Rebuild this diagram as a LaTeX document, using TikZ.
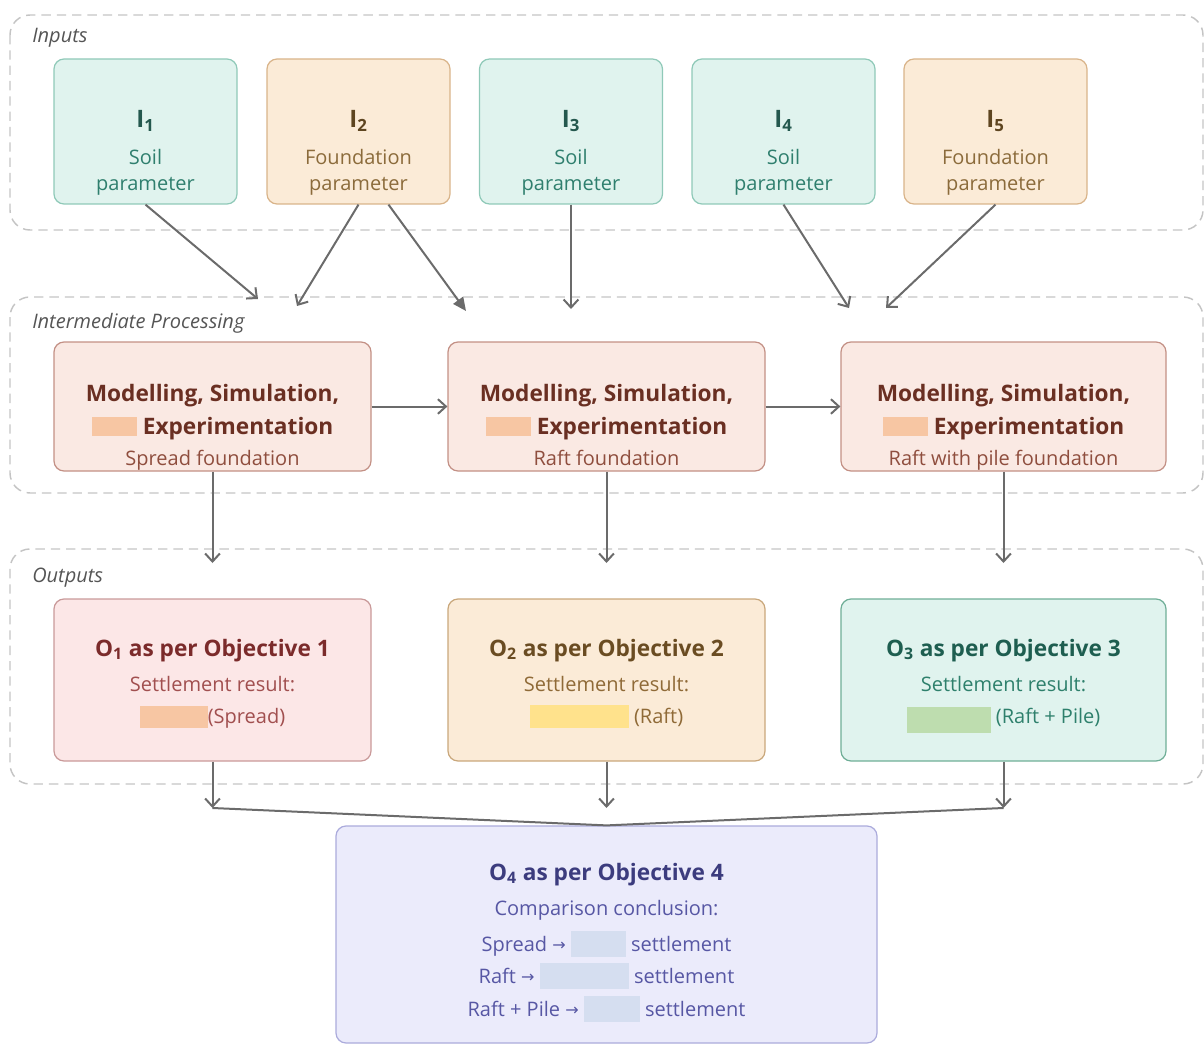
\documentclass[tikz,border=0pt]{standalone}
\usepackage{fontspec}
\setmainfont{Open Sans}
\newfontfamily\arrowfont{DejaVu Sans}
\usetikzlibrary{arrows.meta,calc}

\definecolor{grpline}{HTML}{C4C4C4}
\definecolor{grptext}{HTML}{555555}
\definecolor{soilfill}{HTML}{E0F3EE}
\definecolor{soilline}{HTML}{8FC9B8}
\definecolor{soiltext}{HTML}{2F7F6E}
\definecolor{soilid}{HTML}{24584E}
\definecolor{fndfill}{HTML}{FBEBD7}
\definecolor{fndline}{HTML}{D9B48A}
\definecolor{fndtext}{HTML}{8B6B3B}
\definecolor{fndid}{HTML}{5E4520}
\definecolor{procfill}{HTML}{FAE9E3}
\definecolor{procline}{HTML}{C39085}
\definecolor{proctitle}{HTML}{6A2F22}
\definecolor{procsub}{HTML}{8F4E3E}
\definecolor{hlpeach}{HTML}{F7C6A3}
\definecolor{oafill}{HTML}{FCE7E7}
\definecolor{oaline}{HTML}{C99999}
\definecolor{oatitle}{HTML}{7B2B2B}
\definecolor{oatext}{HTML}{A14F4F}
\definecolor{obfill}{HTML}{FBEBD7}
\definecolor{obline}{HTML}{C9A77B}
\definecolor{obtitle}{HTML}{6A4C22}
\definecolor{obtext}{HTML}{8F6A37}
\definecolor{hlyellow}{HTML}{FFE28C}
\definecolor{ocfill}{HTML}{E0F3EE}
\definecolor{ocline}{HTML}{6FAE97}
\definecolor{octitle}{HTML}{1E5E50}
\definecolor{octext}{HTML}{2E806C}
\definecolor{hlgreen}{HTML}{BEDDAF}
\definecolor{odfill}{HTML}{EBEBFB}
\definecolor{odline}{HTML}{ABABDC}
\definecolor{odtitle}{HTML}{3C3C7E}
\definecolor{odtext}{HTML}{5757A4}
\definecolor{hllav}{HTML}{D5DEF0}
\definecolor{arrowgray}{HTML}{6B6B6B}

% coloured blank field: colour, width, height, depth
\newcommand{\hlbox}[4]{\textcolor{#1}{\rule[-#4]{#2}{\dimexpr#3+#4\relax}}}
\newcommand{\rarr}{\raisebox{0.8pt}{\arrowfont\fontsize{12}{14}\selectfont →}}
\newcommand{\deep}{\rule[-7.5pt]{0pt}{7.5pt}}

\tikzset{
  grp/.style={draw=grpline, line width=1.1pt, dash pattern=on 7pt off 4.5pt, rounded corners=15pt},
  grplabel/.style={anchor=base west, inner sep=0pt, font=\fontsize{15}{18}\selectfont\itshape, text=grptext},
  box/.style={line width=0.9pt, rounded corners=7.5pt, inner sep=0pt},
  inbox/.style={box, minimum width=137.25pt, minimum height=108.75pt},
  procbox/.style={box, draw=procline, fill=procfill, minimum height=96.75pt},
  outbox/.style={box, minimum height=121.5pt},
  txt/.style={align=center, inner sep=0pt},
  intext/.style={txt, font=\fontsize{15}{19.5}\selectfont},
  proctext/.style={txt, font=\fontsize{17}{24.75}\selectfont, text=proctitle},
  outtext/.style={txt, font=\fontsize{15}{24}\selectfont},
  flow/.style={draw=arrowgray, line width=1.5pt, -{Straight Barb[length=6pt,width=11pt]}},
  flowfill/.style={draw=arrowgray, line width=1.5pt, -{Triangle[length=10pt,width=9pt]}},
  merge/.style={draw=arrowgray, line width=1.5pt},
}

\begin{document}
\begin{tikzpicture}[x=0.75pt,y=-0.75pt]
	\useasboundingbox (0,0) rectangle (1204,1045);
	% groups
	\draw[grp] (10,15) rectangle (1203,230);
	\draw[grp] (10,297) rectangle (1203,493);
	\draw[grp] (10,549) rectangle (1203,784);
	\node[grplabel] (lblin) at (32,43) {Inputs};
	\node[grplabel] (lblproc) at (32,328) {Intermediate Processing};
	\node[grplabel] (lblout) at (32,582) {Outputs};
	%
	\node[inbox, draw=soilline, fill=soilfill] (i1) at (145.5,131.5) {};
	\node[inbox, draw=fndline, fill=fndfill] (i2) at (358.5,131.5) {};
	\node[inbox, draw=soilline, fill=soilfill] (i3) at (571,131.5) {};
	\node[inbox, draw=soilline, fill=soilfill] (i4) at (783.5,131.5) {};
	\node[inbox, draw=fndline, fill=fndfill] (i5) at (995.5,131.5) {};
	\node[intext, text=soiltext] (i1txt) at (145.5,153) {{\fontsize{18}{20}\selectfont\bfseries\color{soilid}I\textsubscript{1}}\\[8.25pt]Soil\\parameter};
	\node[intext, text=fndtext] (i2txt) at (358.5,153) {{\fontsize{18}{20}\selectfont\bfseries\color{fndid}I\textsubscript{2}}\\[8.25pt]Foundation\\parameter};
	\node[intext, text=soiltext] (i3txt) at (571,153) {{\fontsize{18}{20}\selectfont\bfseries\color{soilid}I\textsubscript{3}}\\[8.25pt]Soil\\parameter};
	\node[intext, text=soiltext] (i4txt) at (783.5,153) {{\fontsize{18}{20}\selectfont\bfseries\color{soilid}I\textsubscript{4}}\\[8.25pt]Soil\\parameter};
	\node[intext, text=fndtext] (i5txt) at (995.5,153) {{\fontsize{18}{20}\selectfont\bfseries\color{fndid}I\textsubscript{5}}\\[8.25pt]Foundation\\parameter};
	%
	\node[procbox, minimum width=237.75pt] (p1) at (212.5,406.5) {};
	\node[procbox, minimum width=237.75pt] (p2) at (606.5,406.5) {};
	\node[procbox, minimum width=243.75pt] (p3) at (1003.5,406.5) {};
	\node[proctext] (p1txt) at (212.5,428) {{\bfseries Modelling, Simulation,}\\{\hlbox{hlpeach}{34pt}{12.75pt}{1.5pt} \bfseries Experimentation}\\[-1.5pt]{\fontsize{15}{18}\selectfont\color{procsub}Spread foundation\strut}};
	\node[proctext] (p2txt) at (606.5,428) {{\bfseries Modelling, Simulation,}\\{\hlbox{hlpeach}{34pt}{12.75pt}{1.5pt} \bfseries Experimentation}\\[-1.5pt]{\fontsize{15}{18}\selectfont\color{procsub}Raft foundation\strut}};
	\node[proctext] (p3txt) at (1003.5,428) {{\bfseries Modelling, Simulation,}\\{\hlbox{hlpeach}{34pt}{12.75pt}{1.5pt} \bfseries Experimentation}\\[-1.5pt]{\fontsize{15}{18}\selectfont\color{procsub}Raft with pile foundation\strut}};
	%
	\node[outbox, draw=oaline, fill=oafill, minimum width=237.75pt] (o1) at (212.5,680) {};
	\node[outbox, draw=obline, fill=obfill, minimum width=237.75pt] (o2) at (606.5,680) {};
	\node[outbox, draw=ocline, fill=ocfill, minimum width=243.75pt] (o3) at (1003.5,680) {};
	\node[outtext, text=oatext] (o1txt) at (212.5,686) {{\fontsize{17}{20}\selectfont\bfseries\color{oatitle}O\textsubscript{1} as per Objective 1}\\[2.25pt]Settlement result:\\\hlbox{hlpeach}{51pt}{12.75pt}{3.75pt}(Spread)\deep};
	\node[outtext, text=obtext] (o2txt) at (606.5,686) {{\fontsize{17}{20}\selectfont\bfseries\color{obtitle}O\textsubscript{2} as per Objective 2}\\[2.25pt]Settlement result:\\\hlbox{hlyellow}{74.25pt}{13.5pt}{3.75pt} (Raft)\deep};
	\node[outtext, text=octext] (o3txt) at (1003.5,686) {{\fontsize{17}{20}\selectfont\bfseries\color{octitle}O\textsubscript{3} as per Objective 3}\\[2.25pt]Settlement result:\\\hlbox{hlgreen}{63pt}{12pt}{7.5pt} (Raft + Pile)\deep};
	%
	\node[box, draw=odline, fill=odfill, minimum width=405.75pt, minimum height=162.75pt] (o4) at (606.5,934.5) {};
	\node[txt, font=\fontsize{15}{24.75}\selectfont, text=odtext] (o4txt) at (606.5,942.5) {{\fontsize{17}{20}\selectfont\bfseries\color{odtitle}O\textsubscript{4} as per Objective 4}\\[1.5pt]Comparison conclusion:\\[2.25pt]Spread \rarr{} \hlbox{hllav}{41.25pt}{15pt}{4.5pt} settlement\\[-0.75pt]Raft \rarr{} \hlbox{hllav}{66.75pt}{15pt}{4.5pt} settlement\\Raft + Pile \rarr{} \hlbox{hllav}{42pt}{15pt}{4.5pt} settlement};
	%
	\coordinate (e1) at (258,299);
	\coordinate (e2) at (297,306);
	\coordinate (e3) at (466,311);
	\coordinate (e4) at (571,309);
	\coordinate (e5) at (849,308);
	\coordinate (e6) at (886,308);
	\draw[flow] (i1.south) -- (e1);
	\draw[flow] (i2.south) -- (e2);
	\draw[flowfill] ([xshift=22.5pt]i2.south) -- (e3);
	\draw[flow] (i3.south) -- (e4);
	\draw[flow] (i4.south) -- (e5);
	\draw[flow] (i5.south) -- (e6);
	%
	\draw[flow] (p1) -- (p2);
	\draw[flow] (p2) -- (p3);
	\coordinate (d1) at (212.5,563);
	\coordinate (d2) at (606.5,563);
	\coordinate (d3) at (1003.5,563);
	\draw[flow] (p1.south) -- (d1);
	\draw[flow] (p2.south) -- (d2);
	\draw[flow] (p3.south) -- (d3);
	%
	\coordinate (m1) at (212.5,808);
	\coordinate (m2) at (606.5,808);
	\coordinate (m3) at (1003.5,808);
	\draw[flow] (o1.south) -- (m1);
	\draw[flow] (o2.south) -- (m2);
	\draw[flow] (o3.south) -- (m3);
	\draw[merge] (m1) -- (o4.north) -- (m3);
\end{tikzpicture}
\end{document}
